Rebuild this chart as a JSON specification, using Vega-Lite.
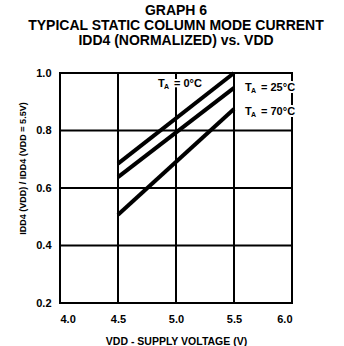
{
  "$schema": "https://vega.github.io/schema/vega-lite/v6.json",
  "width": 232,
  "height": 230,
  "autosize": {"type": "none"},
  "padding": {"left": 60, "top": 73, "right": 52, "bottom": 43},
  "background": "white",
  "config": {
    "font": "Liberation Sans",
    "view": {"stroke": "black", "strokeWidth": 2},
    "axis": {
      "labelFont": "Liberation Sans", "labelFontWeight": "bold", "labelFontSize": 11, "labelColor": "black",
      "titleFont": "Liberation Sans", "titleFontWeight": "bold", "titleFontSize": 10, "titleColor": "black",
      "grid": false, "ticks": false, "domain": false
    }
  },
  "title": {
    "text": ["GRAPH 6", "TYPICAL STATIC COLUMN MODE CURRENT", "IDD4 (NORMALIZED) vs. VDD"],
    "font": "Liberation Sans", "fontWeight": "bold", "fontSize": 14, "color": "black",
    "lineHeight": 15, "anchor": "middle", "offset": 17
  },
  "layer": [
    {
      "data": {"values": [{"v": 4.5}, {"v": 5.0}, {"v": 5.5}]},
      "mark": {"type": "rule", "stroke": "#000000", "strokeWidth": 2, "strokeOpacity": 1},
      "encoding": {"x": {"field": "v", "type": "quantitative", "scale": {"domain": [4, 6], "nice": false, "zero": false}}}
    },
    {
      "data": {"values": [{"r": 0.4}, {"r": 0.6}, {"r": 0.8}]},
      "mark": {"type": "rule", "stroke": "#000000", "strokeWidth": 2, "strokeOpacity": 1},
      "encoding": {"y": {"field": "r", "type": "quantitative", "scale": {"domain": [0.2, 1.0], "nice": false, "zero": false}}}
    },
    {
      "data": {"values": [
        {"series": "0", "v": 4.5, "r": 0.685},
        {"series": "0", "v": 5.5, "r": 1.0},
        {"series": "25", "v": 4.5, "r": 0.638},
        {"series": "25", "v": 5.5, "r": 0.948},
        {"series": "70", "v": 4.5, "r": 0.507},
        {"series": "70", "v": 5.5, "r": 0.875}
      ]},
      "mark": {"type": "line", "color": "black", "strokeWidth": 4, "strokeCap": "butt"},
      "encoding": {
        "x": {"field": "v", "type": "quantitative", "scale": {"domain": [4, 6], "nice": false, "zero": false},
          "axis": {"values": [4.0, 4.5, 5.0, 5.5, 6.0], "format": ".1f", "labelPadding": 10,
            "title": "VDD - SUPPLY VOLTAGE (V)", "titleFontSize": 10.5, "titlePadding": 12}},
        "y": {"field": "r", "type": "quantitative", "scale": {"domain": [0.2, 1.0], "nice": false, "zero": false},
          "axis": {"values": [0.2, 0.4, 0.6, 0.8, 1.0], "format": ".1f", "labelPadding": 9,
            "title": "IDD4 (VDD)  /  IDD4 (VDD = 5.5V)", "titleFontSize": 9, "titlePadding": 8, "titleY": 95}},
        "detail": {"field": "series"}
      }
    },
    {
      "data": {"values": [
        {"t": "T", "a": "A", "rest": "=  0°C", "v": 4.845, "r": 0.962},
        {"t": "T", "a": "A", "rest": "=  25°C", "v": 5.595, "r": 0.948},
        {"t": "T", "a": "A", "rest": "=  70°C", "v": 5.595, "r": 0.864}
      ]},
      "encoding": {"x": {"field": "v", "type": "quantitative"}, "y": {"field": "r", "type": "quantitative"}},
      "layer": [
        {"mark": {"type": "text", "align": "left", "baseline": "middle", "fontWeight": "bold", "fontSize": 11, "color": "white", "stroke": "white", "strokeWidth": 4},
          "encoding": {"text": {"field": "t"}}},
        {"mark": {"type": "text", "align": "left", "baseline": "middle", "fontWeight": "bold", "fontSize": 7, "color": "white", "stroke": "white", "strokeWidth": 4, "dx": 6, "dy": 3},
          "encoding": {"text": {"field": "a"}}},
        {"mark": {"type": "text", "align": "left", "baseline": "middle", "fontWeight": "bold", "fontSize": 11, "color": "white", "stroke": "white", "strokeWidth": 4, "dx": 16},
          "encoding": {"text": {"field": "rest"}}},
        {"mark": {"type": "text", "align": "left", "baseline": "middle", "fontWeight": "bold", "fontSize": 11, "color": "black"},
          "encoding": {"text": {"field": "t"}}},
        {"mark": {"type": "text", "align": "left", "baseline": "middle", "fontWeight": "bold", "fontSize": 7, "color": "black", "dx": 6, "dy": 3},
          "encoding": {"text": {"field": "a"}}},
        {"mark": {"type": "text", "align": "left", "baseline": "middle", "fontWeight": "bold", "fontSize": 11, "color": "black", "dx": 16},
          "encoding": {"text": {"field": "rest"}}}
      ]
    }
  ]
}
